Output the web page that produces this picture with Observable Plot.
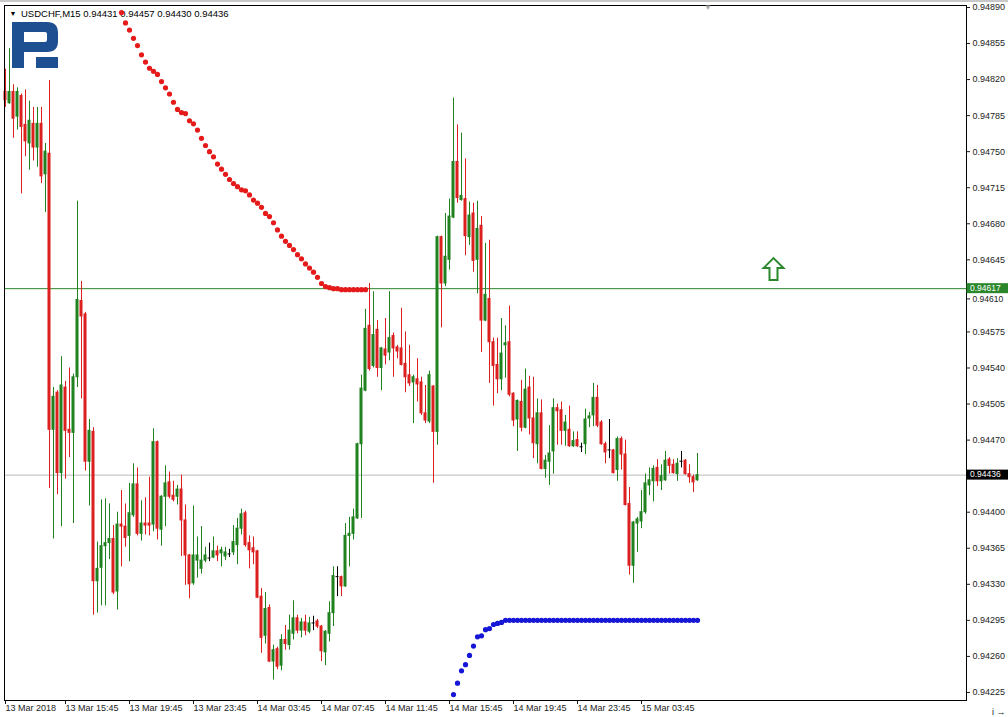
<!DOCTYPE html>
<html><head><meta charset="utf-8">
<script src="https://cdn.jsdelivr.net/npm/d3@7"></script>
<script src="https://cdn.jsdelivr.net/npm/@observablehq/plot@0.6"></script>
<style>
html,body{margin:0;padding:0;background:#fff;overflow:hidden;}
#wrap{position:relative;width:1008px;height:717px;overflow:hidden;background:#fff;}
#topbar{position:absolute;left:0;top:0;width:1008px;height:2px;background:#c8c8c8;z-index:2;}
#wrap svg{position:absolute;left:0;top:0;}
</style></head><body><div id="wrap"><div id="topbar"></div></div>
<script>
// ---- text ----
const symbolName = "USDCHF,M15";
const lastBar = [0.94431, 0.94457, 0.94430, 0.94436];

// ---- candles (M15 bars, index 0 = 13 Mar 2018 12:00) ----
const opens = [
0.94808,0.94797,0.94808,0.94784,0.94804,0.94776,0.94758,0.94777,0.94754,0.94777,
0.94728,0.94748,0.94480,0.94516,0.94438,0.94521,0.94480,0.94477,0.94531,0.94605,
0.94592,0.94449,0.94478,0.94333,0.94346,0.94367,0.94370,0.94374,0.94323,0.94388,
0.94386,0.94377,0.94397,0.94427,0.94379,0.94389,0.94389,0.94388,0.94468,0.94383,
0.94415,0.94429,0.94416,0.94415,0.94422,0.94392,0.94358,0.94331,0.94353,0.94345,
0.94353,0.94355,0.94356,0.94362,0.94360,0.94357,0.94359,0.94361,0.94368,0.94384,
0.94399,0.94370,0.94365,0.94362,0.94318,0.94280,0.94307,0.94255,0.94267,0.94251,
0.94276,0.94271,0.94282,0.94297,0.94285,0.94293,0.94284,0.94292,0.94294,0.94289,
0.94264,0.94282,0.94302,0.94337,0.94337,0.94328,0.94377,0.94379,0.94394,0.94466,
0.94518,0.94581,0.94542,0.94577,0.94540,0.94558,0.94555,0.94571,0.94560,0.94559,
0.94544,0.94533,0.94526,0.94529,0.94526,0.94496,0.94488,0.94522,0.94478,0.94667,
0.94622,0.94645,0.94686,0.94740,0.94703,0.94704,0.94667,0.94690,0.94645,0.94678,
0.94586,0.94607,0.94565,0.94543,0.94529,0.94562,0.94565,0.94515,0.94490,0.94507,
0.94482,0.94521,0.94491,0.94466,0.94496,0.94442,0.94449,0.94459,0.94501,0.94499,
0.94479,0.94480,0.94464,0.94470,0.94463,0.94466,0.94491,0.94494,0.94511,0.94487,
0.94466,0.94460,0.94460,0.94441,0.94471,0.94456,0.94408,0.94348,0.94389,0.94391,
0.94400,0.94426,0.94430,0.94443,0.94430,0.94431,0.94451,0.94446,0.94437,0.94449,
0.94450,0.94437,0.94434,0.94431];
const highs = [
0.94830,0.94850,0.94815,0.94812,0.94806,0.94810,0.94799,0.94793,0.94793,0.94793,
0.94758,0.94819,0.94521,0.94518,0.94551,0.94527,0.94540,0.94534,0.94702,0.94624,
0.94594,0.94490,0.94482,0.94371,0.94412,0.94413,0.94408,0.94387,0.94400,0.94421,
0.94408,0.94428,0.94447,0.94443,0.94411,0.94414,0.94434,0.94481,0.94469,0.94416,
0.94445,0.94439,0.94430,0.94426,0.94436,0.94407,0.94359,0.94406,0.94376,0.94386,
0.94366,0.94370,0.94376,0.94367,0.94366,0.94366,0.94364,0.94387,0.94394,0.94403,
0.94401,0.94377,0.94376,0.94363,0.94326,0.94322,0.94310,0.94271,0.94269,0.94281,
0.94290,0.94300,0.94314,0.94300,0.94297,0.94300,0.94298,0.94299,0.94296,0.94290,
0.94285,0.94313,0.94347,0.94347,0.94338,0.94389,0.94395,0.94403,0.94467,0.94533,
0.94597,0.94622,0.94614,0.94586,0.94560,0.94588,0.94614,0.94574,0.94562,0.94598,
0.94575,0.94562,0.94533,0.94549,0.94531,0.94523,0.94537,0.94523,0.94668,0.94668,
0.94690,0.94704,0.94802,0.94776,0.94768,0.94743,0.94701,0.94700,0.94702,0.94687,
0.94661,0.94664,0.94569,0.94569,0.94588,0.94581,0.94600,0.94516,0.94509,0.94528,
0.94539,0.94532,0.94531,0.94510,0.94509,0.94455,0.94484,0.94510,0.94505,0.94507,
0.94494,0.94503,0.94478,0.94478,0.94467,0.94500,0.94497,0.94525,0.94523,0.94489,
0.94468,0.94490,0.94461,0.94473,0.94473,0.94470,0.94424,0.94391,0.94395,0.94421,
0.94437,0.94443,0.94445,0.94451,0.94446,0.94459,0.94453,0.94451,0.94452,0.94459,
0.94451,0.94446,0.94436,0.94457];
const lows = [
0.94793,0.94796,0.94763,0.94771,0.94709,0.94745,0.94732,0.94741,0.94735,0.94719,
0.94691,0.94423,0.94374,0.94417,0.94386,0.94432,0.94453,0.94389,0.94521,0.94510,
0.94440,0.94406,0.94300,0.94302,0.94309,0.94309,0.94354,0.94320,0.94305,0.94347,
0.94366,0.94352,0.94395,0.94377,0.94372,0.94378,0.94377,0.94381,0.94373,0.94367,
0.94386,0.94413,0.94410,0.94407,0.94357,0.94329,0.94316,0.94329,0.94336,0.94340,
0.94351,0.94352,0.94355,0.94352,0.94347,0.94353,0.94356,0.94358,0.94349,0.94378,
0.94366,0.94345,0.94349,0.94316,0.94263,0.94272,0.94254,0.94237,0.94247,0.94246,
0.94266,0.94266,0.94276,0.94282,0.94278,0.94280,0.94282,0.94285,0.94287,0.94255,
0.94251,0.94274,0.94289,0.94318,0.94318,0.94327,0.94347,0.94373,0.94393,0.94394,
0.94517,0.94537,0.94540,0.94531,0.94518,0.94543,0.94547,0.94531,0.94549,0.94542,
0.94516,0.94522,0.94486,0.94507,0.94494,0.94486,0.94486,0.94428,0.94465,0.94579,
0.94619,0.94635,0.94685,0.94700,0.94702,0.94649,0.94659,0.94633,0.94612,0.94555,
0.94585,0.94525,0.94503,0.94515,0.94518,0.94530,0.94512,0.94483,0.94459,0.94478,
0.94481,0.94475,0.94452,0.94447,0.94441,0.94433,0.94426,0.94437,0.94465,0.94465,
0.94464,0.94463,0.94463,0.94463,0.94458,0.94456,0.94482,0.94483,0.94482,0.94465,
0.94447,0.94452,0.94437,0.94430,0.94441,0.94406,0.94339,0.94331,0.94361,0.94384,
0.94398,0.94416,0.94410,0.94425,0.94421,0.94430,0.94437,0.94437,0.94430,0.94443,
0.94436,0.94428,0.94419,0.94430];
const closes = [
0.94800,0.94808,0.94782,0.94808,0.94774,0.94760,0.94780,0.94754,0.94777,0.94726,
0.94750,0.94480,0.94512,0.94438,0.94523,0.94479,0.94477,0.94531,0.94606,0.94590,
0.94449,0.94479,0.94333,0.94345,0.94367,0.94370,0.94374,0.94322,0.94388,0.94386,
0.94375,0.94399,0.94427,0.94379,0.94389,0.94387,0.94387,0.94468,0.94384,0.94415,
0.94428,0.94415,0.94412,0.94422,0.94392,0.94358,0.94330,0.94358,0.94358,0.94353,
0.94358,0.94355,0.94362,0.94358,0.94363,0.94361,0.94359,0.94371,0.94384,0.94398,
0.94368,0.94363,0.94361,0.94317,0.94278,0.94306,0.94255,0.94266,0.94250,0.94276,
0.94272,0.94285,0.94297,0.94285,0.94293,0.94285,0.94292,0.94292,0.94289,0.94265,
0.94284,0.94302,0.94338,0.94337,0.94328,0.94377,0.94379,0.94395,0.94466,0.94520,
0.94578,0.94539,0.94572,0.94540,0.94559,0.94552,0.94569,0.94559,0.94556,0.94543,
0.94531,0.94525,0.94531,0.94524,0.94496,0.94489,0.94533,0.94478,0.94667,0.94622,
0.94648,0.94687,0.94740,0.94705,0.94707,0.94668,0.94688,0.94644,0.94675,0.94586,
0.94611,0.94565,0.94542,0.94529,0.94554,0.94564,0.94514,0.94489,0.94508,0.94482,
0.94519,0.94491,0.94467,0.94496,0.94442,0.94450,0.94457,0.94501,0.94498,0.94479,
0.94487,0.94464,0.94469,0.94464,0.94463,0.94490,0.94493,0.94511,0.94484,0.94466,
0.94458,0.94460,0.94438,0.94471,0.94456,0.94407,0.94348,0.94390,0.94393,0.94400,
0.94428,0.94431,0.94442,0.94430,0.94435,0.94450,0.94445,0.94438,0.94447,0.94449,
0.94437,0.94434,0.94429,0.94436];

// ---- Parabolic SAR ----
const sarAboveStart = 29;
const sarAbove = [
0.94885,0.94875,0.94868,0.94860,0.94853,0.94844,0.94837,0.94831,0.94828,0.94825,
0.94818,0.94812,0.94806,0.94798,0.94791,0.94788,0.94787,0.94780,0.94777,0.94771,
0.94763,0.94756,0.94750,0.94745,0.94738,0.94733,0.94728,0.94723,0.94719,0.94716,
0.94713,0.94712,0.94708,0.94703,0.94700,0.94696,0.94690,0.94687,0.94681,0.94674,
0.94668,0.94663,0.94659,0.94655,0.94650,0.94646,0.94641,0.94637,0.94633,0.94628,
0.94622,0.94619,0.94618,0.94617,0.94617,0.94616,0.94616,0.94616,0.94616,0.94616,
0.94616,0.94616];
const sarBelowStart = 112;
const sarBelow = [
0.94223,0.94234,0.94246,0.94252,0.94261,0.94270,0.94279,0.94280,0.94286,0.94287,
0.94291,0.94292,0.94293,0.94295,0.94295,0.94295,0.94295,0.94295,0.94295,0.94295,
0.94295,0.94295,0.94295,0.94295,0.94295,0.94295,0.94295,0.94295,0.94295,0.94295,
0.94295,0.94295,0.94295,0.94295,0.94295,0.94295,0.94295,0.94295,0.94295,0.94295,
0.94295,0.94295,0.94295,0.94295,0.94295,0.94295,0.94295,0.94295,0.94295,0.94295,
0.94295,0.94295,0.94295,0.94295,0.94295,0.94295,0.94295,0.94295,0.94295,0.94295,
0.94295,0.94295];

// ---- levels / objects ----
const levelPrice = 0.94617;
const bidPrice = 0.94436;
const arrowBar = 192;
const arrowPrice = 0.94636;

// ---- axes ----
const priceTicks = [0.94890,0.94855,0.94820,0.94785,0.94750,0.94715,0.94680,0.94645,0.94575,
                    0.94540,0.94505,0.94470,0.94400,0.94365,0.94330,0.94295,0.94260,0.94225];
const priceTickNearLevel = [0.94610];
const timeTicks = [0,15,31,47,63,79,95,111,127,143,159];
const timeLabels = ["13 Mar 2018","13 Mar 15:45","13 Mar 19:45","13 Mar 23:45","14 Mar 03:45",
                    "14 Mar 07:45","14 Mar 11:45","14 Mar 15:45","14 Mar 19:45","14 Mar 23:45","15 Mar 03:45"];

// ---- styling ----
const bull = "#1f821f", bear = "#dc1f1f", doji = "#000000";
const sarRed = "#e51a1a", sarBlue = "#1616d6";
const levelColor = "#2b872b";
const fontFam = "'Liberation Sans', Arial, sans-serif";

const candles = opens.map((o, i) => ({i, open: o, high: highs[i], low: lows[i], close: closes[i]}));
const col = d => d.close > d.open ? bull : d.close < d.open ? bear : doji;
const above = sarAbove.map((v, k) => ({i: sarAboveStart + k, v}));
const below = sarBelow.map((v, k) => ({i: sarBelowStart + k, v}));
const fmt = d3.format(".5f");

const arrowSymbol = {
  draw(ctx, size) {
    const s = Math.sqrt(size / Math.PI) / 10;
    ctx.moveTo(0, -11 * s);
    ctx.lineTo(10 * s, -1 * s);
    ctx.lineTo(4 * s, -1 * s);
    ctx.lineTo(4 * s, 11 * s);
    ctx.lineTo(-4 * s, 11 * s);
    ctx.lineTo(-4 * s, -1 * s);
    ctx.lineTo(-10 * s, -1 * s);
    ctx.closePath();
  }
};

const titleText = symbolName + " " + lastBar.map(fmt).join(" ");

const chart = Plot.plot({
  width: 1008, height: 717,
  marginTop: 5, marginRight: 42, marginBottom: 17, marginLeft: 4,
  style: {fontFamily: fontFam, fontSize: "9px", background: "white", color: "#1a1a1a", overflow: "hidden"},
  x: {type: "linear", domain: [-0.25, 240.25], axis: null},
  y: {type: "linear", domain: [0.942172, 0.948919], axis: null},
  marks: [
    Plot.ruleY([bidPrice], {stroke: "#b9b9b9"}),
    Plot.ruleY([levelPrice], {stroke: levelColor}),
    Plot.ruleX(candles, {x: "i", y1: "low", y2: "high", stroke: col}),
    Plot.rect(candles, {x1: d => d.i - 0.375, x2: d => d.i + 0.375, y1: "open", y2: "close",
      fill: col, insetTop: -0.5, insetBottom: -0.5}),
    Plot.text(["\u25BC"], {frameAnchor: "top-left", dx: 5, dy: 6, fontSize: 7, lineAnchor: "top", textAnchor: "start", fill: "#000"}),
    Plot.text([titleText], {frameAnchor: "top-left", dx: 16.5, dy: 5, fontSize: 9.5, lineAnchor: "top", textAnchor: "start", fill: "#000"}),
    Plot.dot(above, {x: "i", y: "v", r: 2.6, fill: sarRed}),
    Plot.dot(below, {x: "i", y: "v", r: 2.6, fill: sarBlue}),
    Plot.dot([{i: arrowBar, v: arrowPrice}], {x: "i", y: "v", r: 10, symbol: arrowSymbol,
      fill: "white", stroke: levelColor, strokeWidth: 2}),
    Plot.axisY(priceTicks, {anchor: "right", tickSize: 3, tickPadding: 3, tickFormat: fmt, fontSize: 9, fill: "#222"}),
    Plot.axisY(priceTickNearLevel, {anchor: "right", tickSize: 3, tickPadding: 3, tickFormat: fmt, fontSize: 8.5, dy: 3, fill: "#222"}),
    Plot.axisX(timeTicks, {anchor: "bottom", tickSize: 4, tickPadding: 0, textAnchor: "start", dx: 0,
      tickFormat: d => timeLabels[timeTicks.indexOf(d)], fontSize: 9, fill: "#222"}),
    Plot.frame({stroke: "#000"})
  ]
});

document.getElementById("wrap").appendChild(chart);

// price label boxes on the right scale
const svg = d3.select(chart);
const yS = chart.scale("y");
[[levelPrice, levelColor], [bidPrice, "#000"]].forEach(([p, c]) => {
  const yy = yS.apply(p);
  svg.append("rect").attr("x", 966.5).attr("y", yy - 5).attr("width", 42).attr("height", 10).attr("fill", c);
  svg.append("text").attr("x", 970).attr("y", yy - 0.5).attr("dy", "0.35em").attr("fill", "#fff")
    .attr("text-anchor", "start").attr("font-size", 8.5).attr("font-family", fontFam).text(fmt(p));
});

// chart shift marker (grey triangle at top)
const xS = chart.scale("x");
svg.append("text").attr("x", xS.apply(opens.length + 1.75)).attr("y", 10).attr("text-anchor", "middle")
  .attr("font-size", 8).attr("fill", "#a8a8a8").text("\u25BC");

// broker logo
svg.append("path")
  .attr("d", "M12,22 H47 Q58,22 58,33 V41 Q58,52 47,52 H24 V68 H12 Z M24,32 H45 Q47,32 47,34 V40 Q47,42 45,42 H24 Z M36,57 H58 V68 H36 Z")
  .attr("fill", "#1d4f91").attr("fill-rule", "evenodd");
</script>
</body></html>
